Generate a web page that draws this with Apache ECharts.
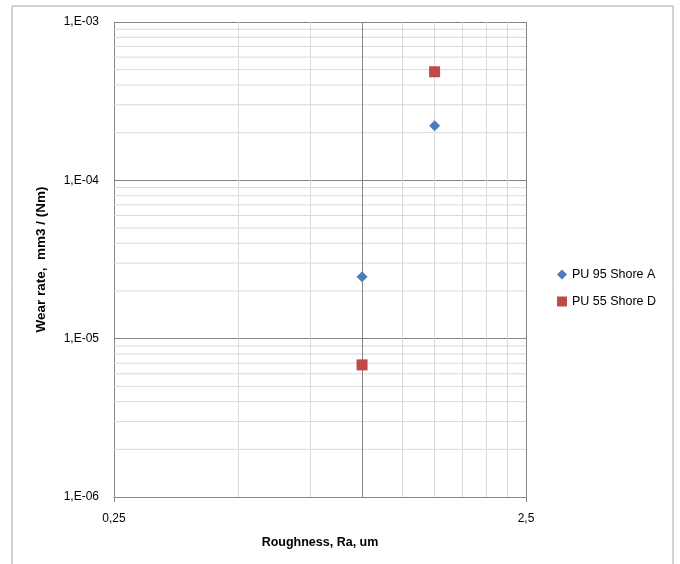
<!DOCTYPE html>
<html>
<head>
<meta charset="utf-8">
<script src="https://cdn.jsdelivr.net/npm/echarts@6/dist/echarts.min.js"></script>
<style>
  html, body { margin: 0; padding: 0; background: #fff; }
  #chart { width: 680px; height: 564px; }
</style>
</head>
<body>
<div id="chart"></div>
<script>
// data
const seriesNames = ['PU 95 Shore A', 'PU 55 Shore D'];
const roughness = [1.0, 1.5];
const wearPU95 = [2.46e-5, 2.21e-4];
const wearPU55 = [6.83e-6, 4.85e-4];

// axis ticks and labels
const xTicks = [0.25, 2.5];
const xTickLabels = ['0,25', '2,5'];
const yTicks = [1e-6, 1e-5, 1e-4, 1e-3];
const yTickLabels = ['1,E-06', '1,E-05', '1,E-04', '1,E-03'];
// minor gridlines (excel style log minor units)
const xMinor = [0.5, 0.75, 1.25, 1.5, 1.75, 2.0, 2.25];
const xAxisCross = 1.0;
const yMinor = [
    2e-6, 3e-6, 4e-6, 5e-6, 6e-6, 7e-6, 8e-6, 9e-6,
    2e-5, 3e-5, 4e-5, 5e-5, 6e-5, 7e-5, 8e-5, 9e-5,
    2e-4, 3e-4, 4e-4, 5e-4, 6e-4, 7e-4, 8e-4, 9e-4
];

function tickLabel(ticks, labels) {
    return function (v) {
        for (let i = 0; i < ticks.length; i++) {
            if (Math.abs(Math.log10(v / ticks[i])) < 0.01) return labels[i];
        }
        return '';
    };
}

const font = 'Liberation Sans';
const chart = echarts.init(document.getElementById('chart'));

// horizontal minor lines as one broken line series
let yMinorData = [];
yMinor.forEach(v => {
    yMinorData.push([xTicks[0], v], [xTicks[1], v], '-');
});

const option = {
    backgroundColor: '#fff',
    animation: false,
    textStyle: { fontFamily: font },
    graphic: [{
        type: 'rect',
        shape: { x: 12, y: 6, width: 661, height: 600 },
        style: { fill: 'none', stroke: '#a6a6a6', lineWidth: 1 },
        silent: true,
        z: -10
    }],
    grid: { left: 114, top: 22, right: 154, bottom: 67 },
    legend: {
        orient: 'vertical',
        left: 552,
        top: 263,
        itemGap: 14,
        itemWidth: 10,
        itemHeight: 10,
        textStyle: { fontFamily: font, fontSize: 12.5, color: '#000' },
        data: [
            { name: seriesNames[0], icon: 'diamond' },
            { name: seriesNames[1], icon: 'rect' }
        ]
    },
    xAxis: {
        type: 'log',
        logBase: 10,
        min: xTicks[0],
        max: xTicks[1],
        interval: 1,
        name: 'Roughness, Ra, um',
        nameLocation: 'middle',
        nameGap: 39,
        nameTextStyle: { fontFamily: font, fontSize: 12.5, fontWeight: 'bold', color: '#000' },
        axisLine: { show: true, lineStyle: { color: '#868686', width: 1 } },
        axisTick: { show: true, length: 5, lineStyle: { color: '#868686' } },
        axisLabel: {
            showMinLabel: true, showMaxLabel: true, margin: 16,
            fontFamily: font, fontSize: 12, color: '#000',
            formatter: tickLabel(xTicks, xTickLabels)
        },
        splitLine: { show: true, lineStyle: { color: '#868686', width: 1 } },
        minorTick: { show: false },
        minorSplitLine: { show: false }
    },
    yAxis: {
        type: 'log',
        logBase: 10,
        min: yTicks[0],
        max: yTicks[3],
        interval: 1,
        name: 'Wear rate,  mm3 / (Nm)',
        nameLocation: 'middle',
        nameGap: 66,
        nameTextStyle: { fontFamily: font, fontSize: 13.5, fontWeight: 'bold', color: '#000' },
        axisLine: { show: false },
        axisTick: { show: false },
        axisLabel: {
            showMinLabel: true, showMaxLabel: true, margin: 15,
            fontFamily: font, fontSize: 12, color: '#000',
            formatter: tickLabel(yTicks, yTickLabels)
        },
        splitLine: { show: true, lineStyle: { color: '#868686', width: 1 } }
    },
    series: [
        {
            name: 'yMinorGrid',
            type: 'line',
            data: yMinorData,
            connectNulls: false,
            showSymbol: false,
            symbol: 'none',
            silent: true,
            legendHoverLink: false,
            lineStyle: { color: '#d9d9d9', width: 1 },
            emphasis: { disabled: true },
            tooltip: { show: false },
            z: 1
        },
        {
            name: seriesNames[0],
            type: 'scatter',
            symbol: 'diamond',
            symbolSize: [11, 11],
            itemStyle: { color: '#4a7ebb', opacity: 1 },
            data: roughness.map((x, i) => [x, wearPU95[i]]),
            z: 5,
            markLine: {
                silent: true,
                symbol: 'none',
                label: { show: false },
                lineStyle: { color: '#d9d9d9', width: 1, type: 'solid' },
                emphasis: { disabled: true },
                data: xMinor.map(v => ({ xAxis: v })),
                z: 1
            }
        },
        {
            name: seriesNames[1],
            type: 'scatter',
            symbol: 'rect',
            symbolSize: [11, 11],
            itemStyle: { color: '#be4b48', opacity: 1 },
            data: roughness.map((x, i) => [x, wearPU55[i]]),
            z: 5,
            markLine: {
                silent: true,
                symbol: 'none',
                label: { show: false },
                lineStyle: { color: '#868686', width: 1, type: 'solid' },
                emphasis: { disabled: true },
                data: [{ xAxis: xAxisCross }],
                z: 2
            }
        }
    ]
};
chart.setOption(option);
</script>
</body>
</html>
